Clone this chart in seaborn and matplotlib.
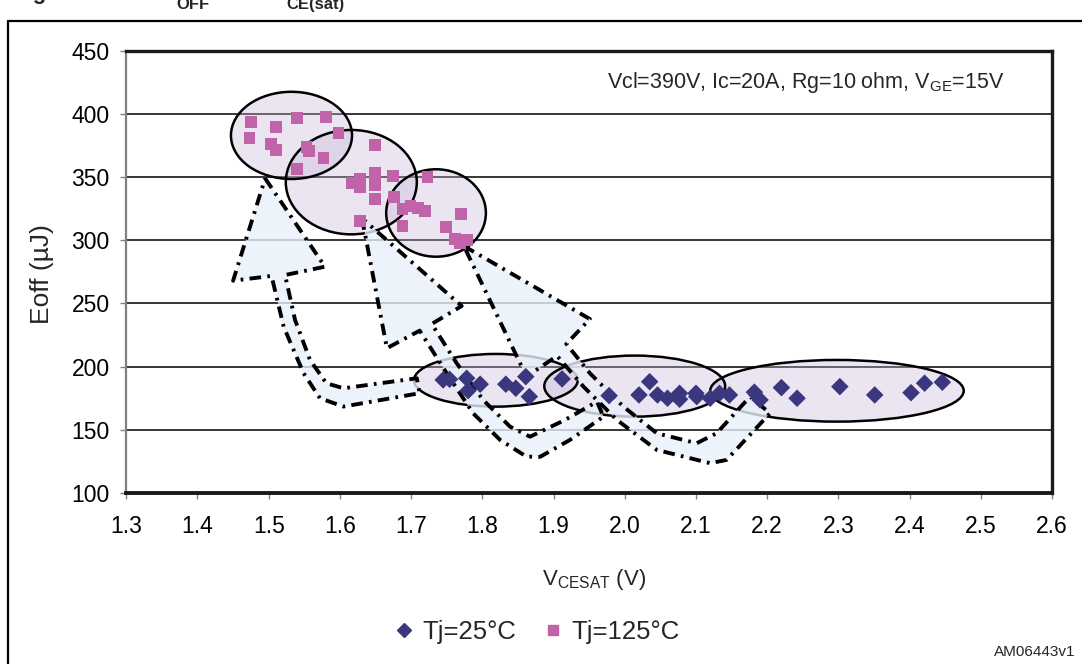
'''
Eoff vs VCE(sat) scatter, Tj=25C and Tj=125C
'''
import numpy as np
import pandas as pd
import seaborn as sns
import matplotlib as mpl
mpl.use('Agg')
import matplotlib.pyplot as plt
from matplotlib.patches import Ellipse, Polygon
from matplotlib.lines import Line2D

#=====================================================
# Tj=25C points (diamonds)
vce_25 = [1.745, 1.754, 1.778, 1.797, 1.780, 1.833, 1.847, 1.861, 1.866, 1.912,
          1.978, 2.035, 2.020, 2.046, 2.060, 2.077, 2.077, 2.100, 2.101, 2.120,
          2.133, 2.147, 2.182, 2.190, 2.220, 2.242, 2.302, 2.351, 2.402, 2.421, 2.446]
eoff_25 = [189.5, 190.0, 190.8, 186.1, 181.0, 186.1, 182.9, 192.1, 176.3, 190.3,
           177.1, 188.1, 177.6, 177.6, 175.0, 178.9, 174.2, 178.9, 176.3, 175.0,
           178.9, 177.6, 179.8, 173.7, 183.4, 175.0, 184.2, 177.6, 179.4, 186.9, 187.7]
# Tj=125C points (squares)
vce_125 = [1.475, 1.510, 1.540, 1.580, 1.473, 1.598, 1.503, 1.510, 1.553, 1.557,
           1.577, 1.540, 1.649, 1.617, 1.628, 1.628, 1.649, 1.649, 1.649, 1.675,
           1.723, 1.649, 1.676, 1.688, 1.699, 1.710, 1.719, 1.688, 1.628, 1.770,
           1.749, 1.762, 1.779, 1.769]
eoff_125 = [393.8, 389.9, 396.5, 397.8, 380.7, 384.7, 375.9, 371.4, 373.8, 370.6,
            365.1, 356.2, 375.4, 345.6, 348.3, 342.4, 353.0, 347.7, 343.7, 350.9,
            349.8, 332.4, 334.0, 324.5, 327.1, 325.3, 323.4, 311.3, 315.5, 320.6,
            310.3, 301.0, 300.2, 297.6]
labels = ['Tj=25°C', 'Tj=125°C']
xticks = [1.3, 1.4, 1.5, 1.6, 1.7, 1.8, 1.9, 2.0, 2.1, 2.2, 2.3, 2.4, 2.5, 2.6]
yticks = [100, 150, 200, 250, 300, 350, 400, 450]

# grouping ellipses: centre x, centre y, width, height
groups = [(1.532, 383.0, 0.170, 69.0), (1.616, 346.0, 0.184, 82.6),
          (1.735, 321.6, 0.140, 69.2), (1.819, 189.2, 0.230, 41.7),
          (2.014, 184.6, 0.254, 48.3), (2.298, 180.9, 0.356, 48.8)]
# hand drawn arrows linking 25C groups to 125C groups
arrows = [
    [(1.495, 349.0), (1.579, 279.1), (1.523, 272.5), (1.537, 237.0), (1.558, 205.3),
     (1.581, 186.9), (1.605, 182.9), (1.708, 190.8), (1.712, 179.0), (1.605, 168.4),
     (1.572, 175.0), (1.549, 194.8), (1.521, 231.6), (1.504, 271.8), (1.450, 268.0)],
    [(1.631, 317.4), (1.666, 214.6), (1.712, 228.5), (1.750, 194.8), (1.787, 163.1),
     (1.825, 142.0), (1.862, 128.8), (1.881, 128.6), (1.923, 142.0), (1.970, 160.4),
     (1.961, 172.3), (1.916, 157.8), (1.867, 144.6), (1.839, 152.5), (1.801, 173.7),
     (1.764, 202.7), (1.729, 233.8), (1.771, 248.0)],
    [(1.774, 295.5), (1.951, 237.7), (1.918, 218.0), (1.951, 194.8), (1.998, 168.4),
     (2.045, 147.3), (2.101, 139.4), (2.129, 147.3), (2.176, 176.3), (2.204, 163.1),
     (2.143, 126.2), (2.120, 123.6), (2.045, 134.1), (1.989, 157.8), (1.942, 184.2),
     (1.905, 208.5), (1.862, 192.1)],
]
#=====================================================
df = pd.DataFrame({'vce': vce_25 + vce_125,
                   'eoff': eoff_25 + eoff_125,
                   'tj': [labels[0]] * len(vce_25) + [labels[1]] * len(vce_125)})

sns.set_style('white')
plt.rcParams['font.family'] = ['Liberation Sans', 'DejaVu Sans']
plt.rcParams['mathtext.fontset'] = 'custom'
plt.rcParams['mathtext.rm'] = 'Liberation Sans'

blue = '#3b377f'
pink = '#c063a9'

fig = plt.figure(figsize=(10.82, 6.64), dpi=100)
ax = fig.add_axes([0.1167, 0.2575, 0.8556, 0.6661])

sns.scatterplot(data=df[df['tj'] == labels[0]], x='vce', y='eoff', marker='D',
                color=blue, s=80, edgecolor='none', zorder=5, ax=ax, legend=False)
sns.scatterplot(data=df[df['tj'] == labels[1]], x='vce', y='eoff', marker='s',
                color=pink, s=72, edgecolor='none', zorder=5, ax=ax, legend=False)

for cx, cy, w, h in groups:
    ax.add_patch(Ellipse((cx, cy), w, h, facecolor='#c8b6d8', alpha=0.35,
                         edgecolor='none', zorder=2))
    ax.add_patch(Ellipse((cx, cy), w, h, facecolor='none', edgecolor='k',
                         lw=1.8, zorder=2.5))
for pts in arrows:
    ax.add_patch(Polygon(pts, closed=True, facecolor='#e9f0fa', alpha=0.8,
                         edgecolor='none', zorder=3))
    ax.add_patch(Polygon(pts, closed=True, facecolor='none', edgecolor='k',
                         lw=2.8, linestyle=(0, (3.0, 1.6, 0.7, 1.6)),
                         joinstyle='round', zorder=3.5))

ax.set_xlim(1.3, 2.6)
ax.set_ylim(100, 450)
ax.set_xticks(xticks)
ax.set_xticklabels(['%.1f' % v for v in xticks])
ax.set_yticks(yticks)
ax.set_yticklabels([str(v) for v in yticks])
ax.yaxis.grid(True, color='k', lw=1.1)
ax.set_axisbelow(True)
ax.tick_params(axis='both', labelsize=16.5, colors='#808080', labelcolor='k',
               direction='out', length=4, width=1)
ax.tick_params(axis='x', pad=12, bottom=True)
ax.tick_params(axis='y', pad=8, left=True)
ax.spines['left'].set_color('#808080')
ax.spines['left'].set_linewidth(1.6)
ax.spines['bottom'].set_color('#1a1a1a')
ax.spines['bottom'].set_linewidth(2.8)
ax.spines['top'].set_color('#1a1a1a')
ax.spines['top'].set_linewidth(2.4)
ax.spines['right'].set_color('#1a1a1a')
ax.spines['right'].set_linewidth(2.4)

ax.set_xlabel(r'V$_{\mathregular{CESAT}}$ (V)', fontsize=16)
ax.xaxis.set_label_coords(0.505, -0.168)
ax.set_ylabel('Eoff (µJ)', fontsize=19)
ax.yaxis.set_label_coords(-0.078, 0.495)

ax.text(0.519, 0.929, r'Vcl=390V, Ic=20A, Rg=10 ohm, V$_{\mathregular{GE}}$=15V',
        transform=ax.transAxes, fontsize=15.5, va='center', ha='left')

handles = [Line2D([], [], marker='D', color=blue, ls='none', markersize=7),
           Line2D([], [], marker='s', color=pink, ls='none', markersize=7)]
fig.legend(handles, labels, loc='center', bbox_to_anchor=(0.495, 0.048), ncol=2,
           frameon=False, fontsize=18.5, handletextpad=0.2, columnspacing=0.95,
           handlelength=1.0)

fig.text(1075 / 1082, 1 - 652 / 664, 'AM06443v1', fontsize=11, ha='right', va='center')

# outer figure frame
fig.add_artist(Line2D([8 / 1082, 8 / 1082], [0, 1 - 21 / 664], color='k', lw=1.6,
                      transform=fig.transFigure))
fig.add_artist(Line2D([8 / 1082, 1], [1 - 21 / 664, 1 - 21 / 664], color='k', lw=1.6,
                      transform=fig.transFigure))
# caption above the frame, mostly cropped off in the source
fig.text(13 / 1082, 1 + 1 / 664, 'Figure 18.', fontsize=16, fontweight='bold', va='baseline')
fig.text(158 / 1082, 1 + 1 / 664, 'E', fontsize=16, fontweight='bold', va='baseline')
fig.text(176 / 1082, 1 - 9 / 664, 'OFF', fontsize=12, fontweight='bold', va='baseline')
fig.text(232 / 1082, 1 + 1 / 664, 'vs V', fontsize=16, fontweight='bold', va='baseline')
fig.text(286 / 1082, 1 - 9 / 664, 'CE(sat)', fontsize=12, fontweight='bold', va='baseline')

plt.savefig('out.png', dpi=100)
